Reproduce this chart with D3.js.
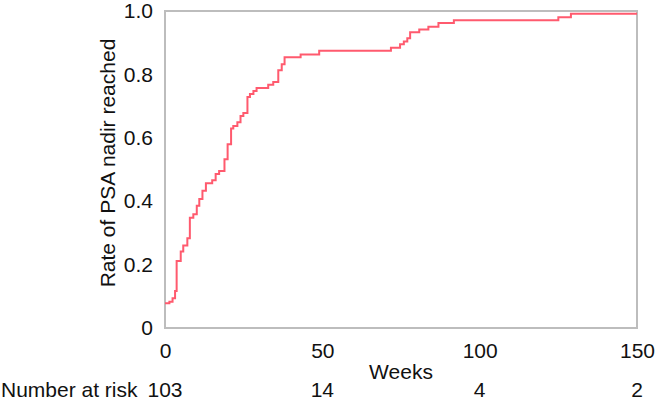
<!doctype html>
<html>
<head>
    <style>
        body { margin: 0; background: #fff; }
        text { font-family: "Liberation Sans", Arial, sans-serif; fill: #111; }
    </style>
    <script src="https://d3js.org/d3.v7.min.js"></script>
</head>
<body>
<svg width="657" height="402"></svg>
<script>
    // step points (week, rate)
    var weeks = [0, 1.4, 2.4, 3.2, 3.7, 5.0, 5.8, 7.1, 7.9, 9.0, 10.1, 10.9, 11.9, 13.0, 15.0, 16.1, 17.2,
                 18.9, 19.9, 21.0, 21.7, 23.0, 24.0, 24.9, 26.2, 27.0, 28.1, 29.1, 32.8, 34.4, 36.0, 37.1,
                 38.0, 43.1, 49.0, 71.8, 74.7, 75.9, 77.0, 77.9, 80.8, 83.7, 86.9, 91.8, 125.0, 129.0, 150];
    var rate = [0.078, 0.083, 0.094, 0.117, 0.211, 0.241, 0.26, 0.283, 0.348, 0.359, 0.386, 0.407, 0.433,
                0.457, 0.466, 0.486, 0.495, 0.532, 0.58, 0.629, 0.637, 0.649, 0.669, 0.678, 0.729, 0.738,
                0.748, 0.757, 0.767, 0.776, 0.813, 0.832, 0.854, 0.863, 0.875, 0.884, 0.895, 0.904, 0.914,
                0.933, 0.942, 0.95, 0.962, 0.971, 0.98, 0.991, 0.991];

    var xTicks = [0, 50, 100, 150];
    var yTicks = [0, 0.2, 0.4, 0.6, 0.8, 1.0];
    var atRisk = [103, 14, 4, 2];

    var svg = d3.select("svg"),
        pLeft = 165, pRight = 637, pTop = 11, pBottom = 328,
        fs = "21px";

    var x = d3.scaleLinear().domain([0, 150]).range([pLeft, pRight]),
        y = d3.scaleLinear().domain([0, 1]).range([pBottom, pTop]);

    // frame
    svg.append("rect")
       .attr("x", pLeft).attr("y", pTop)
       .attr("width", pRight - pLeft).attr("height", pBottom - pTop)
       .attr("fill", "none")
       .attr("stroke", "#bdbdbd")
       .attr("stroke-width", 2);

    var pts = weeks.map(function(w, i) { return [w, rate[i]]; });

    svg.append("path")
       .datum(pts)
       .attr("fill", "none")
       .attr("stroke", "#ff5a6e")
       .attr("stroke-width", 2)
       .attr("d", d3.line()
           .x(function(d) { return x(d[0]); })
           .y(function(d) { return y(d[1]); })
           .curve(d3.curveStepAfter));

    // axes, drawn with d3 axes but no lines/ticks
    var yAxis = svg.append("g")
       .attr("transform", "translate(" + pLeft + ",0)")
       .call(d3.axisLeft(y).tickValues(yTicks).tickSize(0).tickPadding(12)
           .tickFormat(function(d) { return d === 0 ? "0" : d3.format(".1f")(d); }));
    yAxis.select(".domain").remove();
    yAxis.selectAll("text").attr("font-size", fs).attr("font-family", null).attr("fill", "#111");

    var xAxis = svg.append("g")
       .attr("transform", "translate(0," + pBottom + ")")
       .call(d3.axisBottom(x).tickValues(xTicks).tickSize(0).tickPadding(15).tickFormat(d3.format("d")));
    xAxis.select(".domain").remove();
    xAxis.selectAll("text").attr("font-size", fs).attr("font-family", null).attr("fill", "#111");

    svg.append("text")
       .attr("x", (pLeft + pRight) / 2)
       .attr("y", 379)
       .attr("text-anchor", "middle")
       .attr("font-size", fs)
       .text("Weeks");

    svg.append("text")
       .attr("transform", "translate(115,163) rotate(-90)")
       .attr("text-anchor", "middle")
       .attr("font-size", fs)
       .text("Rate of PSA nadir reached");

    svg.append("text")
       .attr("x", 1)
       .attr("y", 397)
       .attr("font-size", fs)
       .text("Number at risk");

    svg.selectAll(".risk")
       .data(atRisk)
       .enter().append("text")
       .attr("class", "risk")
       .attr("x", function(d, i) { return x(xTicks[i]); })
       .attr("y", 397)
       .attr("text-anchor", "middle")
       .attr("font-size", fs)
       .text(function(d) { return d; });
</script>
</body>
</html>
